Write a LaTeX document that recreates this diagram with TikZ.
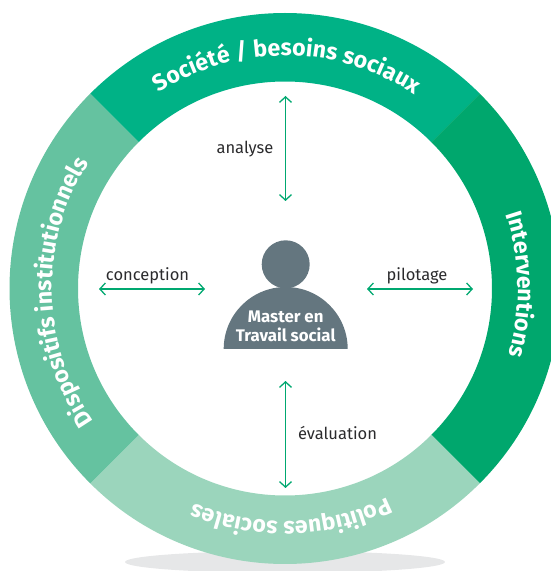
\documentclass[tikz,border=0pt]{standalone}
\usepackage{fontspec}
\setmainfont{Fira Sans}
\usetikzlibrary{arrows.meta}
\usetikzlibrary{calc}
\usetikzlibrary{decorations.text}

\definecolor{ringTop}{HTML}{00B286}
\definecolor{ringRight}{HTML}{00A76D}
\definecolor{ringLeft}{HTML}{65C2A0}
\definecolor{ringBottom}{HTML}{9BD5BC}
\definecolor{personGrey}{HTML}{64767F}
\definecolor{shadowGrey}{HTML}{E6E7E8}
\definecolor{linkGreen}{HTML}{00A870}
\definecolor{labelInk}{HTML}{2B2B2D}

\tikzset{
    link/.style={linkGreen, line width=1.3pt, {Straight Barb[length=5.5pt,width=12pt]}-{Straight Barb[length=5.5pt,width=12pt]}},
    linkLabel/.style={text=labelInk, font=\fontsize{16.5}{18}\selectfont, inner sep=0pt},
    ringText/.style={
        decorate,
        decoration={
            text along path,
            text align=center,
            text={|\fontsize{23.2}{26}\selectfont\bfseries\color{white}|#1}
        }
    }
}

\begin{document}
\begin{tikzpicture}[x=1pt, y=1pt]
        \useasboundingbox (0, 0) rectangle (551, 571);
        \clip (0, 0) rectangle (551, 571);
        \coordinate (c) at (285, 282.5);

        \fill[shadowGrey] (285, 9) ellipse (160 and 11);

        % ring sectors
        \foreach \a/\col in {45/ringTop, -45/ringRight, -135/ringBottom, -225/ringLeft} {
            \fill[\col] ($(c)+(\a:275.5)$) arc[start angle=\a, delta angle=90, radius=275.5]
                -- ($(c)+(\a+90:207)$) arc[start angle=\a+90, delta angle=-90, radius=207] -- cycle;
        }

        % ring labels
        \path[ringText={Société / besoins sociaux}] ($(c)+(134.5:233)$) arc[start angle=134.5, delta angle=-90, radius=233];
        \path[ringText={Interventions}] ($(c)+(46:233)$) arc[start angle=46, delta angle=-90, radius=233];
        \path[ringText={Politiques sociales}] ($(c)+(-43.4:233)$) arc[start angle=-43.4, delta angle=-90, radius=233];
        \path[ringText={Dispositifs institutionnels}] ($(c)+(-134:233)$) arc[start angle=-134, delta angle=-90, radius=233];

        % person
        \fill[personGrey] (285.7, 306.7) circle (24);
        \fill[personGrey] (223.7, 222) arc[start angle=180, end angle=0, radius=62] -- cycle;
        \node[text=white, font=\fontsize{16.8}{18.5}\selectfont\bfseries, align=center, inner sep=0pt] (master) at (285.7, 244.5) {Master en\\Travail social};

        % links
        \coordinate (topA) at (285.5, 475);
        \coordinate (topB) at (285.5, 370);
        \coordinate (botA) at (285.5, 190);
        \coordinate (botB) at (285.5, 83);
        \coordinate (leftA) at (99, 282);
        \coordinate (leftB) at (205, 282);
        \coordinate (rightA) at (367, 282);
        \coordinate (rightB) at (473, 282);
        \draw[link] (topA) -- (topB);
        \draw[link] (botA) -- (botB);
        \draw[link] (leftA) -- (leftB);
        \draw[link] (rightA) -- (rightB);

        \node[linkLabel] (analyse) at (245, 421.5) {analyse};
        \node[linkLabel] (conception) at (147.5, 295.5) {conception};
        \node[linkLabel] (pilotage) at (417, 295.5) {pilotage};
        \node[linkLabel] (evaluation) at (337.5, 138) {évaluation};
    \end{tikzpicture}
\end{document}
